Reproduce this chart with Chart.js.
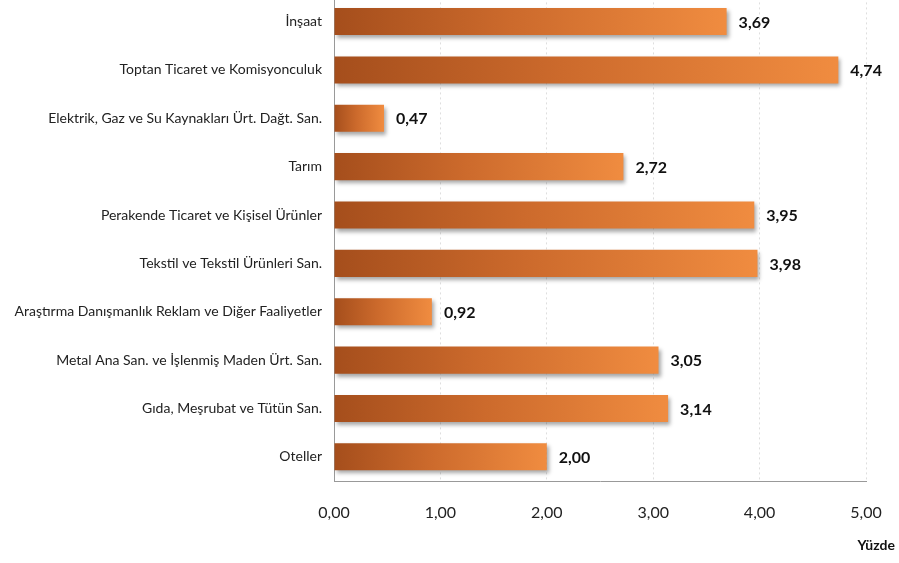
<!DOCTYPE html>
<html>
<head>
<meta charset="utf-8">
<script src="https://cdn.jsdelivr.net/npm/chart.js"></script>
<style>
  html, body { margin: 0; padding: 0; background: #fff; overflow: hidden; }
  #wrap { position: absolute; left: 0; top: -23px; width: 899px; height: 586px; }
</style>
</head>
<body>
<div id="wrap"><canvas id="sektorChart"></canvas></div>
<script>
    // Sektörler ve yüzde değerleri
    var sektorler = [
        "İnşaat",
        "Toptan Ticaret ve Komisyonculuk",
        "Elektrik, Gaz ve Su Kaynakları Ürt. Dağt. San.",
        "Tarım",
        "Perakende Ticaret ve Kişisel Ürünler",
        "Tekstil ve Tekstil Ürünleri San.",
        "Araştırma Danışmanlık Reklam ve Diğer Faaliyetler",
        "Metal Ana San. ve İşlenmiş Maden Ürt. San.",
        "Gıda, Meşrubat ve Tütün San.",
        "Oteller"
    ];
    var yuzdeler = [3.69, 4.74, 0.47, 2.72, 3.95, 3.98, 0.92, 3.05, 3.14, 2.00];
    var eksenDegerleri = [0, 1, 2, 3, 4, 5];
    var eksenBasligi = "Yüzde";

    var yaziTipi = "Lato, 'Open Sans', sans-serif";

    function virgullu(v) {
        return v.toFixed(2).replace(".", ",");
    }

    // Her çubuk kendi boyunca koyu kahveden turuncuya gider
    function cubukRengi(ctx) {
        var chart = ctx.chart;
        if (!chart.chartArea || ctx.dataIndex === undefined) return "#d06e2e";
        var x = chart.scales.x;
        var x0 = x.getPixelForValue(0);
        var x1 = x.getPixelForValue(yuzdeler[ctx.dataIndex]);
        var g = chart.ctx.createLinearGradient(x0, 0, x1, 0);
        g.addColorStop(0, "#a54e1c");
        g.addColorStop(0.45, "#cc6a2c");
        g.addColorStop(1, "#f08c40");
        return g;
    }

    // Çubuklara gölge
    var golgePlugin = {
        id: "golge",
        beforeDatasetDraw: function(chart) {
            var c = chart.ctx;
            c.save();
            c.shadowColor = "rgba(0,0,0,0.35)";
            c.shadowBlur = 4;
            c.shadowOffsetX = 2;
            c.shadowOffsetY = 3;
        },
        afterDatasetDraw: function(chart) {
            chart.ctx.restore();
        }
    };

    // Değer etiketleri ve eksen başlığı
    var etiketPlugin = {
        id: "etiketler",
        afterDatasetsDraw: function(chart) {
            var c = chart.ctx;
            var meta = chart.getDatasetMeta(0);
            c.save();
            c.fillStyle = "#111";
            c.font = "bold 16px " + yaziTipi;
            c.textBaseline = "middle";
            c.textAlign = "left";
            meta.data.forEach(function(bar, i) {
                c.fillText(virgullu(yuzdeler[i]), bar.x + 12, bar.y + 1);
            });
            c.font = "bold 14px " + yaziTipi;
            c.textAlign = "right";
            var area = chart.chartArea;
            c.fillText(eksenBasligi, area.right + 29, area.bottom + 64);
            c.restore();
        }
    };

    var ctxSektor = document.getElementById("sektorChart").getContext("2d");
    var sektorChart = new Chart(ctxSektor, {
        type: "bar",
        data: {
            labels: sektorler,
            datasets: [{
                data: yuzdeler,
                backgroundColor: cubukRengi,
                borderWidth: 0,
                categoryPercentage: 1,
                barPercentage: 0.56
            }]
        },
        options: {
            indexAxis: "y",
            responsive: true,
            maintainAspectRatio: false,
            animation: false,
            layout: { padding: { left: 0, right: 33, top: 0, bottom: 0 } },
            plugins: {
                legend: { display: false },
                tooltip: { enabled: false }
            },
            scales: {
                x: {
                    min: eksenDegerleri[0],
                    max: eksenDegerleri[eksenDegerleri.length - 1],
                    afterBuildTicks: function(s) {
                        s.ticks = eksenDegerleri.map(function(v) { return { value: v }; });
                    },
                    ticks: {
                        callback: function(v) { return virgullu(v); },
                        color: "#222",
                        padding: 22,
                        font: { family: yaziTipi, size: 16 }
                    },
                    grid: {
                        color: "#dedede",
                        drawTicks: false,
                        tickLength: 0
                    },
                    border: { display: true, color: "#999", width: 1, dash: [2, 3] },
                    afterFit: function(s) {
                        s.height = 82;
                        s.paddingLeft = 0;
                        s.paddingRight = 0;
                    }
                },
                y: {
                    ticks: {
                        color: "#222",
                        padding: 12,
                        font: { family: yaziTipi, size: 14 }
                    },
                    grid: { display: false, drawTicks: false },
                    border: { display: true, color: "#999", width: 1 },
                    afterFit: function(s) { s.width = 334; }
                }
            }
        },
        plugins: [golgePlugin, etiketPlugin]
    });
</script>
</body>
</html>
